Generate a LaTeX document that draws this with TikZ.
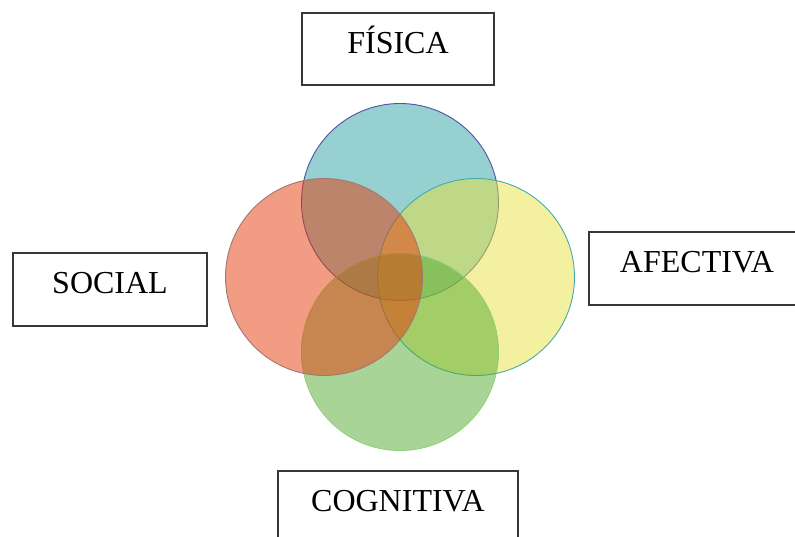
\documentclass[tikz,border=0pt]{standalone}
\usepackage{fontspec}
\setmainfont{Liberation Serif}
\definecolor{cblue}{RGB}{45,161,161}
\definecolor{cred}{RGB}{229,57,10}
\definecolor{cyel}{RGB}{231,225,65}
\definecolor{cgrn}{RGB}{83,170,47}
\definecolor{lblue}{RGB}{80,80,165}
\definecolor{lred}{RGB}{160,120,115}
\definecolor{lyel}{RGB}{70,170,170}
\definecolor{lgrn}{RGB}{150,205,120}
\definecolor{boxline}{RGB}{55,55,55}
\begin{document}
\begin{tikzpicture}[x=1pt,y=-1pt,
  lbox/.style={draw=boxline,line width=1.8pt,fill=white,inner sep=0pt,
    text height=22pt,text depth=14pt,font=\fontsize{32}{36}\selectfont},
  venn/.style={circle,minimum size=197pt,inner sep=0pt,fill opacity=0.5,line width=0.9pt}]
\useasboundingbox (0,0) rectangle (795,536);
\clip (0,0) rectangle (795,536);
\node[venn,draw=lblue,fill=cblue] (cf) at (400,202) {};
\node[venn,draw=lyel,fill=cyel] (ca) at (476,277) {};
\node[venn,draw=lgrn,fill=cgrn] (cc) at (400,352) {};
\node[venn,draw=lred,fill=cred] (cs) at (324,277) {};
\node[lbox,minimum width=192pt,minimum height=72pt] (fis) at (398,49) {FÍSICA};
\node[lbox,minimum width=194pt,minimum height=73pt] (soc) at (110,289.5) {SOCIAL};
\node[lbox,minimum width=216pt,minimum height=73pt] (afe) at (697,268.5) {AFECTIVA};
\node[lbox,minimum width=240pt,minimum height=73pt] (cog) at (398,507.5) {COGNITIVA};
\end{tikzpicture}
\end{document}
